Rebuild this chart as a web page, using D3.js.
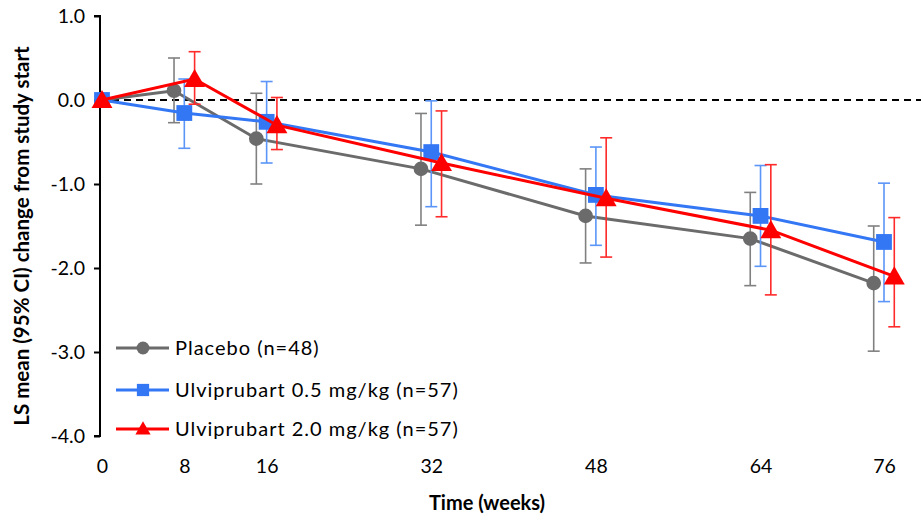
<!DOCTYPE html>
<html><head><meta charset="utf-8">
<script src="https://cdn.jsdelivr.net/npm/d3@7"></script>
<style>body{margin:0;background:#fff}svg{display:block}</style>
</head><body>
<script>
// ---- data ----
const weeks = [0, 8, 16, 32, 48, 64, 76];
const yTicks = [1, 0, -1, -2, -3, -4];
const seriesNames = ["Placebo (n=48)", "Ulviprubart 0.5 mg/kg (n=57)", "Ulviprubart 2.0 mg/kg (n=57)"];
const dodgeWeeks = [-1, 0, 1]; // horizontal offset (weeks) used to separate the series
const placeboMean = [0, 0.11, -0.46, -0.82, -1.38, -1.65, -2.18];
const placeboLo   = [0, -0.27, -1.00, -1.49, -1.94, -2.21, -2.99];
const placeboHi   = [0, 0.50, 0.08, -0.16, -0.82, -1.10, -1.50];
const low05Mean   = [0, -0.155, -0.26, -0.62, -1.13, -1.38, -1.69];
const low05Lo     = [0, -0.575, -0.75, -1.27, -1.73, -1.98, -2.40];
const low05Hi     = [0, 0.25, 0.22, -0.01, -0.56, -0.78, -0.99];
const high20Mean  = [0, 0.25, -0.30, -0.75, -1.17, -1.55, -2.10];
const high20Lo    = [0, -0.05, -0.59, -1.39, -1.87, -2.32, -2.70];
const high20Hi    = [0, 0.575, 0.03, -0.13, -0.45, -0.77, -1.40];

const colors = ["#6b6b6b", "#3377f5", "#ff0000"];
const errColors = ["#808080", "#5b95f7", "#ff2a2a"];
const symbols = [d3.symbolCircle, d3.symbolSquare, d3.symbolTriangle];
const symSizes = [170, 250, 190];

const series = [
  {mean: placeboMean, lo: placeboLo, hi: placeboHi},
  {mean: low05Mean, lo: low05Lo, hi: low05Hi},
  {mean: high20Mean, lo: high20Lo, hi: high20Hi}
];

const W = 921, H = 515;
const svg = d3.select("body").append("svg").attr("width", W).attr("height", H);
const font = "Lato, 'Open Sans', sans-serif";
const fmt1 = v => d3.format(".1f")(v).replace("\u2212", "-");

const x = d3.scaleLinear().domain([0, 76]).range([102, 884]);
const y = d3.scaleLinear().domain([-4, 1]).range([436, 16]);

// zero reference line
svg.append("line").attr("x1", 100).attr("x2", W).attr("y1", y(0)).attr("y2", y(0))
  .attr("stroke", "#000").attr("stroke-width", 1.8).attr("stroke-dasharray", "7,5");

// y axis
const yAxis = svg.append("g").attr("transform", "translate(100,0)")
  .call(d3.axisLeft(y).tickValues(yTicks).tickFormat(fmt1).tickSize(6).tickPadding(9));
yAxis.select(".domain").attr("stroke", "#000").attr("stroke-width", 2).attr("d", `M-6,${y(1)}H0V${y(-4)}H-6`);
yAxis.selectAll(".tick line").attr("stroke", "#000").attr("stroke-width", 2);
yAxis.selectAll("text").attr("font-family", font).attr("font-size", 19.5).attr("fill", "#000");

// x axis labels (no axis line)
const xAxis = svg.append("g").attr("transform", "translate(0,459)")
  .call(d3.axisBottom(x).tickValues(weeks).tickFormat(d3.format("d")).tickSize(0).tickPadding(0));
xAxis.select(".domain").remove();
xAxis.selectAll("text").attr("font-family", font).attr("font-size", 19.5).attr("fill", "#000");

// axis titles
svg.append("text").attr("transform", `translate(29,${(y(1)+y(-4))/2 + 10}) rotate(-90)`)
  .attr("text-anchor", "middle").attr("font-family", font).attr("font-weight", "bold")
  .attr("font-size", 20.5).attr("fill", "#000").text("LS mean (95% CI) change from study start");
svg.append("text").attr("x", 487).attr("y", 510).attr("text-anchor", "middle")
  .attr("font-family", font).attr("font-weight", "bold").attr("font-size", 20)
  .attr("fill", "#000").text("Time (weeks)");

// series
series.forEach((s, i) => {
  const xs = weeks.map(w => w === 0 ? 0 : w + dodgeWeeks[i]);
  const pts = xs.map((w, j) => ({w, m: s.mean[j], lo: s.lo[j], hi: s.hi[j]}));
  const g = svg.append("g");
  // error bars
  pts.filter(p => p.w !== 0).forEach(p => {
    g.append("line").attr("x1", x(p.w)).attr("x2", x(p.w)).attr("y1", y(p.lo)).attr("y2", y(p.hi))
      .attr("stroke", errColors[i]).attr("stroke-width", 1.6);
    [p.lo, p.hi].forEach(v => g.append("line").attr("x1", x(p.w) - 6).attr("x2", x(p.w) + 6)
      .attr("y1", y(v)).attr("y2", y(v)).attr("stroke", errColors[i]).attr("stroke-width", 1.6));
  });
  g.append("path").datum(pts).attr("fill", "none").attr("stroke", colors[i]).attr("stroke-width", 3)
    .attr("d", d3.line().x(p => x(p.w)).y(p => y(p.m)));
  g.selectAll("path.m").data(pts).enter().append("path").attr("class", "m")
    .attr("transform", p => `translate(${x(p.w)},${y(p.m) + (i === 2 ? 2 : 0)})`)
    .attr("d", d3.symbol().type(symbols[i]).size(symSizes[i])).attr("fill", colors[i]);
});

// legend
const legY = [348, 390, 429];
seriesNames.forEach((name, i) => {
  const lg = svg.append("g").attr("transform", `translate(0,${legY[i]})`);
  lg.append("line").attr("x1", 116).attr("x2", 169).attr("stroke", colors[i]).attr("stroke-width", 3);
  lg.append("path").attr("transform", `translate(143,${i === 2 ? 1 : 0})`)
    .attr("d", d3.symbol().type(symbols[i]).size(i === 0 ? 130 : (i === 1 ? 150 : 100))).attr("fill", colors[i]);
  lg.append("text").attr("x", 175).attr("y", 0).attr("dy", "0.35em")
    .attr("font-family", font).attr("font-size", 20).attr("letter-spacing", 1).attr("fill", "#000").text(name);
});
</script>
</body></html>
